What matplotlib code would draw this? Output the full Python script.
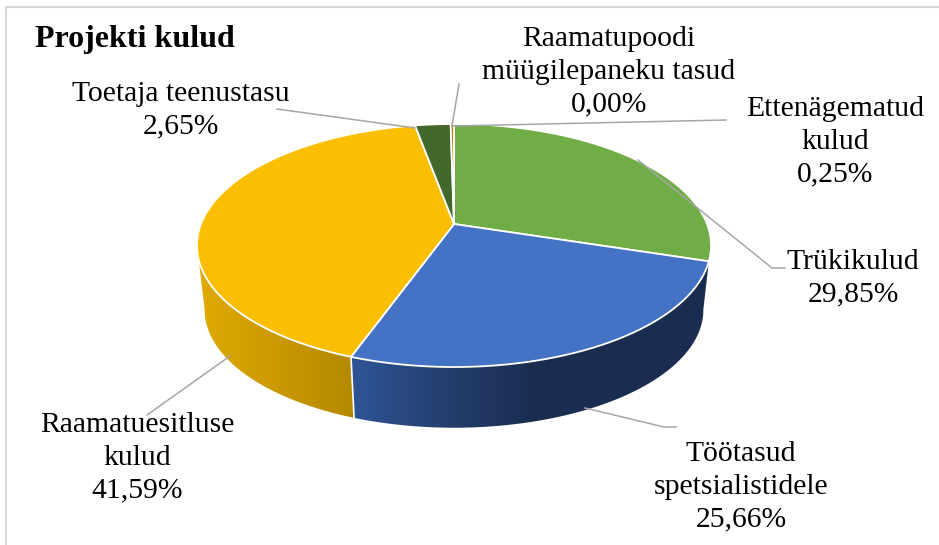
import numpy as np
import matplotlib
matplotlib.use("Agg")
import matplotlib.pyplot as plt
from matplotlib.colors import LinearSegmentedColormap
from matplotlib.patches import Polygon

# andmed
categories = ["Trükikulud", "Töötasud\nspetsialistidele", "Raamatuesitluse\nkulud",
              "Toetaja teenustasu", "Raamatupoodi\nmüügilepaneku tasud", "Ettenägematud\nkulud"]
values = [29.85, 25.66, 41.59, 2.65, 0.00, 0.25]
colors = ["#70AD47", "#4472C4", "#FBBE00", "#43682B", "#A5A5A5", "#C07F10"]
side_colors = {1: ["#2F5597", "#253F70", "#1A2E52", "#1A2C4F", "#1A2C4F"],
               2: ["#E0AA00", "#B48900"]}
label_pos = [(853, 278), (741, 487), (137, 458), (180.5, 110.5), (609, 72), (835, 142)]
leaders = [[(638, 160), (772, 268), (785, 268)],
           [(585, 408), (664, 427), (676, 427)],
           [(230, 356), (147, 415)],
           [(277, 109), (415, 128)],
           [(459, 84), (452, 126)],
           [(453, 126), (726, 120)]]

# pirukas perspektiivis
cx, cy, R, H, k = 454, 224, 253, 117.7, 0.177
bottom_cy, bottom_c = 289, 0.97


def top_xy(deg):
    t = np.radians(deg)
    s = 1 / (1 + k * np.cos(t))
    return cx + R * np.sin(t) * s, cy - H * np.cos(t) * s


def bottom_xy(deg):
    t = np.radians(deg)
    s = 1 / (1 + k * np.cos(t))
    return cx + bottom_c * R * np.sin(t) * s, bottom_cy - bottom_c * H * np.cos(t) * s


fig = plt.figure(figsize=(9.39, 5.45), dpi=100)
ax = fig.add_axes([0, 0, 1, 1])
ax.set_xlim(0, 939)
ax.set_ylim(545, 0)
ax.axis("off")

edges = np.concatenate([[0], np.cumsum(values) / sum(values) * 360])

# kulg
for i, grad in side_colors.items():
    a0, a1 = edges[i], edges[i + 1]
    # ainult esikülg paistab
    tx, ty = top_xy(np.linspace(a0, min(a1, 260), 120))
    bx, by = bottom_xy(np.linspace(min(a0, 100) if i == 1 else a0, min(a1, 260), 120))
    pts = np.column_stack([np.r_[tx, bx[::-1]], np.r_[ty, by[::-1]]])
    clip = Polygon(pts, closed=True, transform=ax.transData, fc="none", ec="none")
    ax.add_patch(clip)
    cmap = LinearSegmentedColormap.from_list("side", grad)
    xl, xr = pts[:, 0].min(), pts[:, 0].max()
    g = np.linspace(0, 1, 256)[None, :]
    im = ax.imshow(g, extent=[xl, xr, pts[:, 1].max(), pts[:, 1].min()], cmap=cmap,
                   aspect="auto", zorder=2)
    im.set_clip_path(clip)
    ax.set_xlim(0, 939)
    ax.set_ylim(545, 0)

# eraldusjoon külgede vahel
x0, y0 = top_xy(edges[2])
x1, y1 = bottom_xy(edges[2])
ax.plot([x0, x1], [y0, y1], color="white", lw=1.2, zorder=3)

# pealmine pind
for i, v in enumerate(values):
    if v == 0:
        continue
    ang = np.linspace(edges[i], edges[i + 1], 200)
    x, y = top_xy(ang)
    ax.fill(np.r_[cx, x], np.r_[cy, y], fc=colors[i], ec="white", lw=1.3, zorder=4,
            joinstyle="round")

# jooned ja sildid
for pts in leaders:
    p = np.array(pts)
    ax.plot(p[:, 0], p[:, 1], color="#A6A6A6", lw=1.1, zorder=5)

for name, v, (lx, ly) in zip(categories, values, label_pos):
    txt = name + "\n" + f"{v:.2f}".replace(".", ",") + "%"
    ax.text(lx, ly, txt, ha="center", va="center", family="Liberation Serif",
            fontsize=21.3, color="black", linespacing=1.33, zorder=6)

ax.text(35, 40, "Projekti kulud", ha="left", va="center", family="Liberation Serif",
        fontsize=23, fontweight="bold", color="black", zorder=6)

# diagrammi raam
ax.plot([6, 6], [545, 6.5], color="#D9D9D9", lw=1.5, zorder=1)
ax.plot([6, 939], [6.5, 6.5], color="#D9D9D9", lw=1.5, zorder=1)

fig.savefig("out.png", dpi=100)
